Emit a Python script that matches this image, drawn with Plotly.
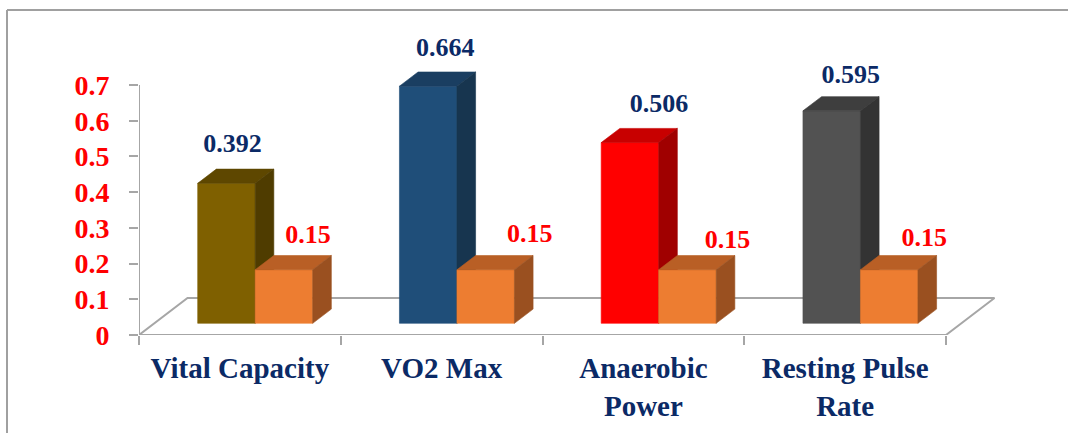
import plotly.graph_objects as go

# ---- data -------------------------------------------------------------
categories = ["Vital Capacity", "VO2 Max", "Anaerobic<br>Power", "Resting Pulse<br>Rate"]
correlation = [0.392, 0.664, 0.506, 0.595]
table_value = [0.15, 0.15, 0.15, 0.15]
y_tick_vals = [0, 0.1, 0.2, 0.3, 0.4, 0.5, 0.6, 0.7]
y_tick_text = ["0", "0.1", "0.2", "0.3", "0.4", "0.5", "0.6", "0.7"]

# ---- styling ----------------------------------------------------------
bar_front = ["#7F6000", "#1F4E79", "#FF0000", "#525252"]
bar_top = ["#5E4700", "#1A3E61", "#C80000", "#3E3E3E"]
bar_side = ["#4F3C00", "#17354F", "#A00000", "#333333"]
ref_front, ref_top, ref_side = "#ED7D31", "#B95F25", "#9A5020"
NAVY = "#0B2A66"
RED = "#FF0000"
GRID_GREY = "#A6A6A6"
FONT = "Liberation Serif"

# ---- canvas geometry (pixels) ------------------------------------------
W, H = 1068, 433
PLOT_L, PLOT_R, PLOT_T, PLOT_B = 139, 1000, 15, 335
X_PX = 201.75          # pixels per category slot
Y_PX = 357.1           # pixels per unit of value
x_range = [-0.5, -0.5 + (PLOT_R - PLOT_L) / X_PX]
y_range = [0, (PLOT_B - PLOT_T) / Y_PX]

# 3-D projection: full floor depth and the depth span occupied by the bars
FLOOR_DX = 48.5 / X_PX
FLOOR_DY = 37.0 / Y_PX
BAR_Z0, BAR_Z1 = 0.316, 0.70
BAR_W = 57.5 / X_PX

SX, SY = BAR_Z0 * FLOOR_DX, BAR_Z0 * FLOOR_DY            # front-plane shift
DDX, DDY = (BAR_Z1 - BAR_Z0) * FLOOR_DX, (BAR_Z1 - BAR_Z0) * FLOOR_DY

# hand-placed label nudges in pixels (dx right, dy up) from the front-face top centre
corr_nudge = [(6, 38), (17, 37), (29, 37), (19, 34)]
ref_nudge = [(24, 33), (44, 34), (40, 28), (35, 30)]

fig = go.Figure()


def poly(xs, ys, color):
    fig.add_trace(go.Scatter(
        x=xs + [xs[0]], y=ys + [ys[0]], mode="lines", fill="toself",
        fillcolor=color, line=dict(color=color, width=0.6),
        hoverinfo="skip", showlegend=False))


def box(x0, value, front, top, side):
    x1 = x0 + BAR_W
    b, t = SY, SY + value
    poly([x0, x1, x1, x0], [b, b, t, t], front)
    poly([x0, x1, x1 + DDX, x0 + DDX], [t, t, t + DDY, t + DDY], top)
    poly([x1, x1 + DDX, x1 + DDX, x1], [b, b + DDY, t + DDY, t], side)


# floor outline and vertical axis line
n = len(categories)
fx0, fx1 = -0.5, n - 0.5
fig.add_trace(go.Scatter(
    x=[fx0, fx0 + FLOOR_DX, fx1 + FLOOR_DX, fx1, fx0],
    y=[0, FLOOR_DY, FLOOR_DY, 0, 0],
    mode="lines", line=dict(color=GRID_GREY, width=2),
    hoverinfo="skip", showlegend=False))
fig.add_trace(go.Scatter(
    x=[fx0, fx0], y=[0, y_tick_vals[-1]],
    mode="lines", line=dict(color=GRID_GREY, width=2),
    hoverinfo="skip", showlegend=False))

# bars
for i in range(n):
    cx = i + SX
    box(cx - BAR_W, correlation[i], bar_front[i], bar_top[i], bar_side[i])
    box(cx, table_value[i], ref_front, ref_top, ref_side)

# value labels
lx, ly, lt = [], [], []
rx, ry, rt = [], [], []
for i in range(n):
    cx = i + SX
    lx.append(cx - BAR_W / 2 + corr_nudge[i][0] / X_PX)
    ly.append(SY + correlation[i] + corr_nudge[i][1] / Y_PX)
    lt.append(f"{correlation[i]:g}")
    rx.append(cx + BAR_W / 2 + ref_nudge[i][0] / X_PX)
    ry.append(SY + table_value[i] + ref_nudge[i][1] / Y_PX)
    rt.append(f"{table_value[i]:g}")

fig.add_trace(go.Scatter(
    x=lx, y=ly, text=lt, mode="text", cliponaxis=False,
    textfont=dict(family=FONT, size=26, color=NAVY, weight="bold"),
    hoverinfo="skip", showlegend=False))
fig.add_trace(go.Scatter(
    x=rx, y=ry, text=rt, mode="text", cliponaxis=False,
    textfont=dict(family=FONT, size=26, color=RED, weight="bold"),
    hoverinfo="skip", showlegend=False))


# chart frame (left and top edges visible)
def px_x(p):
    return (p - PLOT_L) / (PLOT_R - PLOT_L)


def px_y(p):
    return (PLOT_B - p) / (PLOT_B - PLOT_T)


frame = dict(type="line", xref="paper", yref="paper",
             line=dict(color="#A0A0A0", width=2), layer="below")
fig.add_shape(**frame, x0=px_x(7), y0=px_y(10), x1=px_x(7), y1=px_y(445))
fig.add_shape(**frame, x0=px_x(7), y0=px_y(10), x1=px_x(1080), y1=px_y(10))

fig.update_layout(
    width=W, height=H,
    margin=dict(l=PLOT_L, r=W - PLOT_R, t=PLOT_T, b=H - PLOT_B),
    paper_bgcolor="white", plot_bgcolor="white",
    hovermode=False, showlegend=False,
    xaxis=dict(
        range=x_range, showgrid=False, zeroline=False, showline=False,
        tickmode="array", tickvals=list(range(n)), ticktext=categories,
        ticks="", ticklabelstandoff=13,
        tickfont=dict(family=FONT, size=29, color=NAVY, weight="bold"),
        minor=dict(tickmode="array", tickvals=[k - 0.5 for k in range(n + 1)],
                   ticks="outside", ticklen=9, tickcolor=GRID_GREY, tickwidth=2,
                   showgrid=False),
        fixedrange=True,
    ),
    yaxis=dict(
        range=y_range, showgrid=False, zeroline=False, showline=False,
        tickmode="array", tickvals=y_tick_vals, ticktext=y_tick_text,
        ticks="outside", ticklen=9, tickcolor=GRID_GREY, tickwidth=2,
        ticklabelstandoff=14,
        tickfont=dict(family=FONT, size=28, color=RED, weight="bold"),
        fixedrange=True,
    ),
)

fig.write_html("out.html")
